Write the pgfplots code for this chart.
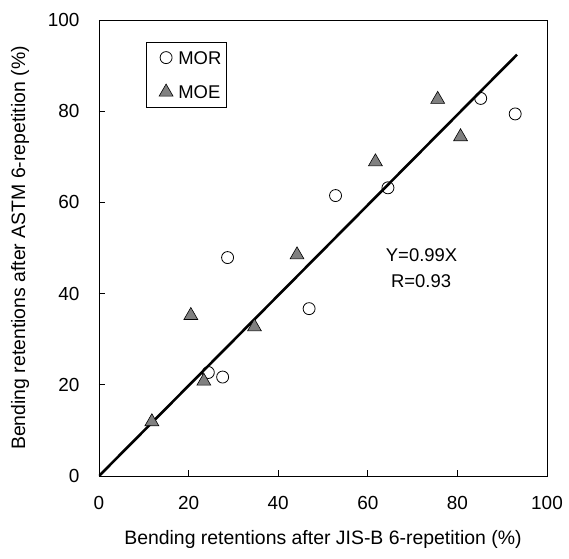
\documentclass[border=0pt]{standalone}
\usepackage{pgfplots}
\pgfplotsset{compat=1.18}
\usepackage{fontspec}
\setmainfont{Liberation Sans}
\begin{document}
\begin{tikzpicture}
\begin{axis}[
  scale only axis,
  width=448bp, height=456bp,
  xmin=0, xmax=100, ymin=0, ymax=100,
  xtick={0,20,...,100}, ytick={0,20,...,100},
  tick align=inside,
  xtick pos=bottom, ytick pos=left,
  major tick length=6bp,
  axis line style={line width=0.8bp},
  tick style={line width=0.8bp, black},
  /pgf/number format/assume math mode=true,
  tick label style={font=\fontsize{19}{22}\selectfont},
  xticklabel shift=17bp,
  yticklabel shift=16bp,
  xlabel={Bending retentions after JIS-B 6-repetition (\%)},
  ylabel={Bending retentions after ASTM 6-repetition (\%)},
  xlabel style={font=\fontsize{19.5}{22}\selectfont, at={(axis description cs:0.5,-0.140)}, anchor=center},
  ylabel style={font=\fontsize{19.5}{22}\selectfont, at={(axis description cs:-0.176,0.5)}, anchor=center},
  legend style={at={(axis cs:10.6,95.2)}, anchor=north west,
    font=\fontsize{18.5}{22}\selectfont, draw=black, line width=0.6bp,
    row sep=20bp, column sep=0pt, inner xsep=5bp, inner ysep=9bp,
    nodes={inner sep=0pt, text depth=0pt},
    legend cell align=left},
  legend image code/.code={\path (0bp,0bp) (26bp,0bp); \draw[#1] plot coordinates {(14bp,0bp)};},
]
\addplot[only marks, mark=o, mark size=6bp, mark options={draw=black, line width=0.8bp}] coordinates {
 (85.2,82.8) (92.9,79.4) (64.5,63.2) (52.8,61.5) (28.7,47.9) (46.9,36.7) (24.4,22.7) (27.6,21.7)
};
\addlegendentry{MOR}
\addplot[only marks, mark=triangle*, mark size=8bp, mark options={draw=black, fill=gray, line width=0.6bp}] coordinates {
 (75.6,82.6) (80.7,74.4) (61.7,68.9) (44.2,48.5) (20.5,35.2) (34.7,32.7) (23.4,20.8) (11.8,11.9)
};
\addlegendentry{MOE}
\addplot[black, line width=2.6bp, forget plot] coordinates {(0,0) (93.3,92.4)};
\node[font=\fontsize{18.5}{22}\selectfont] at (axis cs:72,48.5) {Y=0.99X};
\node[font=\fontsize{18.5}{22}\selectfont] at (axis cs:71.9,42.8) {R=0.93};
\end{axis}
\path (current axis.south west) ++(-99bp,-83bp) coordinate (bbA);
\path (current axis.north east) ++(22bp,20bp) coordinate (bbB);
\path (bbA) rectangle (bbB);
\end{tikzpicture}
\end{document}
